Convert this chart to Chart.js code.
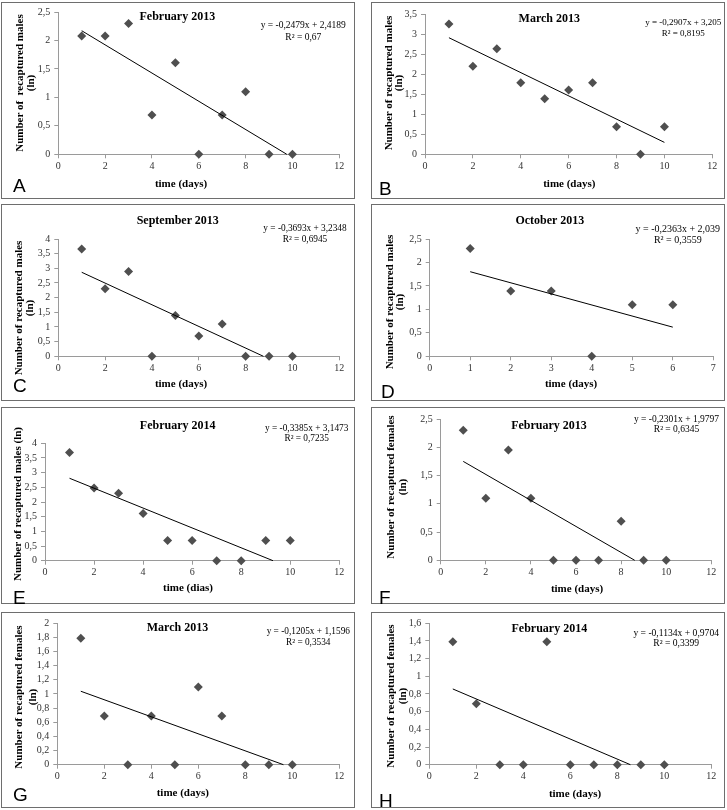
<!DOCTYPE html>
<html><head><meta charset="utf-8">
<script src="https://cdn.jsdelivr.net/npm/chart.js@4.4.1/dist/chart.umd.min.js"></script>
<style>
body{margin:0;background:#fff;width:727px;height:810px;position:relative;overflow:hidden;font-family:"Liberation Serif","Times New Roman",serif;}
.panel{position:absolute;}
.panel canvas{position:absolute;left:0;top:0;}
.frame{position:absolute;left:0;top:0;box-sizing:border-box;border:1.5px solid #6e6e6e;pointer-events:none;}
.t{position:absolute;white-space:pre;transform:translate(-50%,-50%);color:#000;line-height:1;}
.ttl{font-weight:bold;font-size:12px;}
.eq{font-size:9.5px;}
.ax{font-weight:bold;font-size:11px;}
.yax{transform:translate(-50%,-50%) rotate(-90deg);}
.let{font-family:"Liberation Sans",Arial,sans-serif;font-size:19px;transform:translate(0,-50%);}
</style>
</head><body>
<script>
// ---------- data ----------
const days = [1,2,3,4,5,6,7,8,9,10];
const daysOct = [1,2,3,4,5,6];
const malesFeb2013 = [2.08,2.08,2.30,0.69,1.61,0,0.69,1.10,0,0];
const malesMar2013 = [3.26,2.20,2.64,1.79,1.39,1.61,1.79,0.69,0,0.69];
const malesSep2013 = [3.66,2.30,2.89,0,1.39,0.69,1.10,0,0,0];
const malesOct2013 = [2.30,1.39,1.39,0,1.10,1.10];
const malesFeb2014 = [3.69,2.48,2.30,1.61,0.69,0.69,0,0,0.69,0.69];
const femalesFeb2013 = [2.30,1.10,1.95,1.10,0,0,0,0.69,0,0];
const femalesMar2013 = [1.79,0.69,0,0.69,0,1.10,0.69,0,0,0];
const femalesFeb2014 = [1.39,0.69,0,0,1.39,0,0,0,0,0];

const trendSlopes = [-0.2479,-0.2907,-0.3693,-0.2363,-0.3385,-0.2301,-0.1205,-0.1134];
const trendIntercepts = [2.4189,3.205,3.2348,2.039,3.1473,1.9797,1.1596,0.9704];
const eqLines = ['y = -0,2479x + 2,4189','y = -0,2907x + 3,205','y = -0,3693x + 3,2348','y = -0,2363x + 2,039','y = -0,3385x + 3,1473','y = -0,2301x + 1,9797','y = -0,1205x + 1,1596','y = -0,1134x + 0,9704'];
const r2Lines = ['R² = 0,67','R² = 0,8195','R² = 0,6945','R² = 0,3559','R² = 0,7235','R² = 0,6345','R² = 0,3534','R² = 0,3399'];
const titles = ['February 2013','March 2013','September 2013','October 2013','February 2014','February 2013','March 2013','February 2014'];
const letters = ['A','B','C','D','E','F','G','H'];
const yTitles = [
  ['Number of  recaptured males','(ln)'],
  ['Number of recaptured males','(ln)'],
  ['Number of recaptured males','(ln)'],
  ['Number of recaptured males','(ln)'],
  ['Number of recaptured males (ln)'],
  ['Number of recaptured females','(ln)'],
  ['Number of recaptured females','(ln)'],
  ['Number of recaptured females','(ln)']
];
const xTitles = ['time (days)','time (days)','time (days)','time (days)','time (dias)','time (days)','time (days)','time (days)'];
const xMaxes = [12,12,12,7,12,12,12,12];
const xSteps = [2,2,2,1,2,2,2,2];
const yMaxes = [2.5,3.5,4,2.5,4,2.5,2,1.6];
const ySteps = [0.5,0.5,0.5,0.5,0.5,0.5,0.2,0.2];
const xSeries = [days,days,days,daysOct,days,days,days,days];
const ySeries = [malesFeb2013,malesMar2013,malesSep2013,malesOct2013,malesFeb2014,femalesFeb2013,femalesMar2013,femalesFeb2014];

// ---------- layout (positions only) ----------
const layouts = [
 {box:[1,2,354,197],  plot:[57.3,9,338.3,152.3],  title:[176.3,13.7], eq:[302.3,23.7,35.7,9.5], yt:[17.7,28.7,81.3], xt:[180,181.3], let:[12,183]},
 {box:[371,2,354,197],plot:[54,12.3,341.3,152.3], title:[178.3,16.3], eq:[312.3,19.7,31.3,9],   yt:[17.3,26.7,81.3], xt:[198.3,180.7], let:[8,186]},
 {box:[1,204,354,197],plot:[57.3,35,338.3,152.3], title:[176.7,16],   eq:[304,25.3,36,9.3],     yt:[17.3,28.3,104], xt:[180,179.3], let:[12,181]},
 {box:[371,204,354,197],plot:[58.7,35,342.3,152.3],title:[178.8,16],  eq:[306.8,25.3,36,10],    yt:[18,28,98],      xt:[200,179.3], let:[10,187]},
 {box:[1,407,354,197],plot:[44,36.3,338.3,153.7], title:[176.7,18],   eq:[305.7,22.3,32.3,9.3], yt:[16.3,null,97],  xt:[187,180.3], let:[12,190]},
 {box:[371,407,354,197],plot:[69.7,12,340.3,153.3],title:[178,18],    eq:[305.5,13,23,9.5],     yt:[18.7,31.3,79.7],xt:[206,180.7], let:[8,190]},
 {box:[1,612,354,196],plot:[56.3,11.3,338.3,152.7],title:[176.5,15.3],eq:[307.3,19.7,30.7,9.3], yt:[16.7,30.7,84.7],xt:[181.8,179.7], let:[12,182]},
 {box:[371,612,354,196],plot:[58.3,11.3,340.3,152.7],title:[178.3,16.3],eq:[305.2,21.3,31.3,9.6],yt:[18.7,30.5,83.8],xt:[204,180.7], let:[8,188]}
];

const SERIF = '"Liberation Serif","Times New Roman",serif';
const AXIS_COLOR = '#9a9a9a';
const MARK_COLOR = '#4f4f4f';

function fmt(v){ const r = Math.round(v*10)/10; return String(r).replace('.', ','); }

function addText(parent, cls, text, x, y, extraStyle){
  const d = document.createElement('div');
  d.className = 't ' + cls;
  d.textContent = text;
  d.style.left = x + 'px';
  d.style.top = y + 'px';
  if (extraStyle) Object.assign(d.style, extraStyle);
  parent.appendChild(d);
  return d;
}

layouts.forEach((L, i) => {
  const [bx, by, W, H] = L.box;
  const [pl, pt, pr, pb] = L.plot;
  const wrap = document.createElement('div');
  wrap.className = 'panel';
  Object.assign(wrap.style, {left: bx+'px', top: by+'px', width: W+'px', height: H+'px'});
  document.body.appendChild(wrap);
  const cv = document.createElement('canvas');
  cv.width = W; cv.height = H;
  cv.style.width = W+'px'; cv.style.height = H+'px';
  wrap.appendChild(cv);
  const frame = document.createElement('div');
  frame.className = 'frame';
  Object.assign(frame.style, {width: W+'px', height: H+'px'});
  wrap.appendChild(frame);

  // texts
  addText(wrap, 'ttl', titles[i], L.title[0], L.title[1]);
  addText(wrap, 'eq', eqLines[i], L.eq[0], L.eq[1], {fontSize: L.eq[3]+'px'});
  addText(wrap, 'eq', r2Lines[i], L.eq[0], L.eq[2], {fontSize: L.eq[3]+'px'});
  const yt = yTitles[i];
  addText(wrap, 'ax yax', yt[0], L.yt[0], L.yt[2]);
  if (yt[1]) addText(wrap, 'ax yax', yt[1], L.yt[1], L.yt[2]);
  addText(wrap, 'ax', xTitles[i], L.xt[0], L.xt[1]);
  addText(wrap, 'let', letters[i], L.let[0], L.let[1]);

  const xs = xSeries[i], ys = ySeries[i];
  const pts = xs.map((x, k) => ({x: x, y: ys[k]}));
  const m = trendSlopes[i], b = trendIntercepts[i];
  const xLast = xs[xs.length-1];
  const xEnd = Math.min(xLast, -b/m);
  const trend = [{x: xs[0], y: m*xs[0]+b}, {x: xEnd, y: Math.max(0, m*xEnd+b)}];

  const axisCommon = {
    grid: {display: true, drawOnChartArea: false, drawTicks: true, tickLength: 4, color: AXIS_COLOR, lineWidth: 1},
    border: {display: true, color: AXIS_COLOR, width: 1}
  };

  new Chart(cv, {
    type: 'scatter',
    data: {
      datasets: [
        {data: trend, showLine: true, borderColor: '#000', borderWidth: 1, pointRadius: 0, fill: false, clip: false},
        {data: pts, showLine: false, pointStyle: 'rectRot', pointRadius: 4.5, backgroundColor: MARK_COLOR, borderColor: MARK_COLOR, borderWidth: 0, clip: false}
      ]
    },
    options: {
      responsive: false, animation: false, events: [],
      layout: {padding: {left: 0, top: pt, right: W - pr, bottom: 0}},
      plugins: {legend: {display: false}, tooltip: {enabled: false}, title: {display: false}},
      scales: {
        x: Object.assign({
          type: 'linear', min: 0, max: xMaxes[i],
          ticks: {stepSize: xSteps[i], color: '#333', font: {family: SERIF, size: 10}, padding: 2, maxRotation: 0, autoSkip: false, callback: v => fmt(v)},
          afterFit: s => { s.height = H - pb; }
        }, axisCommon),
        y: Object.assign({
          type: 'linear', min: 0, max: yMaxes[i],
          ticks: {stepSize: ySteps[i], color: '#333', font: {family: SERIF, size: 10}, padding: 4, autoSkip: false, callback: v => fmt(v)},
          afterFit: s => { s.width = pl; }
        }, axisCommon)
      }
    }
  });
});
</script>
</body></html>
